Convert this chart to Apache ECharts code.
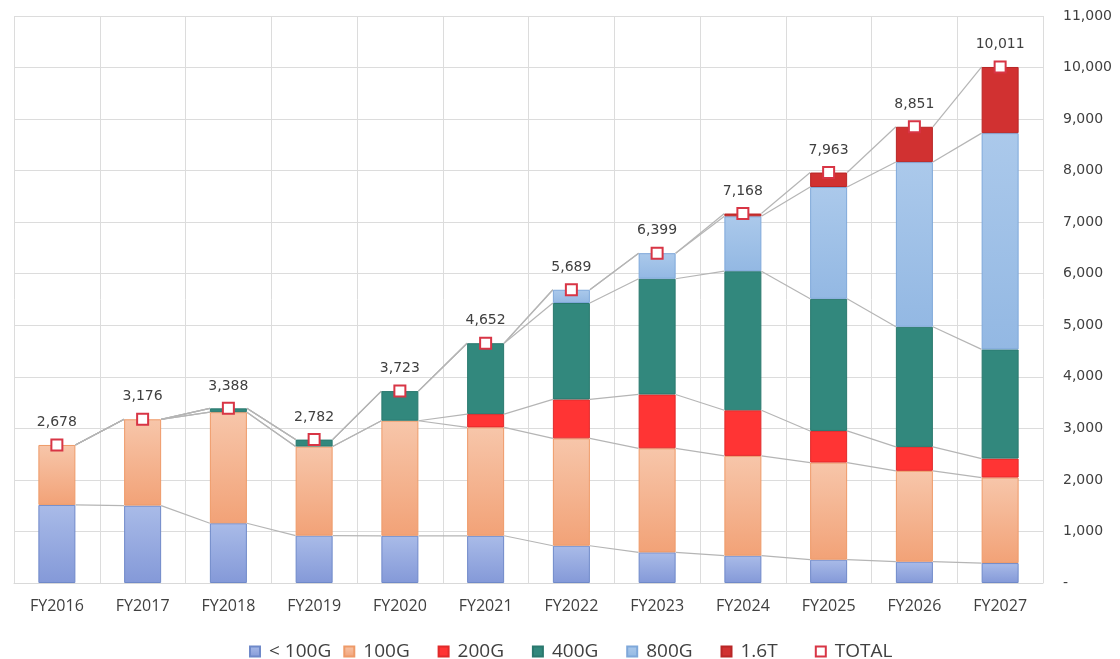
<!DOCTYPE html>
<html>
<head>
<meta charset="utf-8">
<script src="https://cdn.jsdelivr.net/npm/echarts@6/dist/echarts.min.js"></script>
<style>html,body{margin:0;padding:0;background:#fff;}#c{width:1120px;height:659px;}</style>
</head>
<body>
<div id="c"></div>
<script>
const categories = ['FY2016','FY2017','FY2018','FY2019','FY2020','FY2021','FY2022','FY2023','FY2024','FY2025','FY2026','FY2027'];
const seriesNames = ['< 100G','100G','200G','400G','800G','1.6T'];
const lt100G = [1515,1502,1159,919,916,916,723,594,530,452,413,387];
const g100   = [1163,1674,2155,1728,2232,2103,2083,2019,1936,1885,1763,1659];
const g200   = [0,0,0,0,0,258,755,1045,885,613,464,368];
const g400   = [0,0,74,135,575,1375,1871,2245,2698,2563,2331,2118];
const g800   = [0,0,0,0,0,0,257,496,1065,2169,3195,4196];
const t16    = [0,0,0,0,0,0,0,0,54,281,685,1283];
const totals = [2678,3176,3388,2782,3723,4652,5689,6399,7168,7963,8851,10011];

const stacks = [lt100G,g100,g200,g400,g800,t16];
const cum = [];
stacks.forEach((arr,k)=>{
  cum.push(arr.map((v,i)=> (k? cum[k-1][i]:0) + v));
});

const BAR_W = 37;
function grad(top, bottom){
  return {type:'linear',x:0,y:0,x2:0,y2:1,colorStops:[{offset:0,color:top},{offset:1,color:bottom}]};
}
const styles = [
  {color:grad('#a9bbe8','#8499d8'), borderColor:'#6f89c9'},
  {color:grad('#f7c6aa','#f2a277'), borderColor:'#ee9a68'},
  {color:'#ff3434', borderColor:'#e02a2a'},
  {color:'#32887d', borderColor:'#2a786e'},
  {color:grad('#abc9eb','#93b8e3'), borderColor:'#7fa8da'},
  {color:'#d13131', borderColor:'#b82626'}
];

const fmt = v => v.toLocaleString('en-US');

const series = stacks.map((arr,k)=>({
  name: seriesNames[k],
  type:'bar',
  stack:'s',
  barWidth: BAR_W,
  z: 3,
  data: arr.map(v => v === 0 ? null : v),
  itemStyle: Object.assign({borderWidth:1}, styles[k])
}));

series.push({
  name:'seriesLines',
  type:'custom',
  z:2,
  silent:true,
  data: categories.slice(0,-1).map((c,i)=>[i]),
  renderItem: function(params, api){
    const i = api.value(0);
    const children = [];
    for (let k=0;k<cum.length;k++){
      const p1 = api.coord([i, cum[k][i]]);
      const p2 = api.coord([i+1, cum[k][i+1]]);
      children.push({type:'line', shape:{x1:p1[0]+BAR_W/2, y1:p1[1], x2:p2[0]-BAR_W/2, y2:p2[1]},
        style:{stroke:'#b5b5b5', lineWidth:1.2}});
    }
    return {type:'group', children};
  }
});

series.push({
  name:'TOTAL',
  type:'line',
  z:5,
  data: totals,
  symbol:'rect',
  symbolSize:11,
  showAllSymbol:true,
  lineStyle:{width:0, opacity:0},
  itemStyle:{color:'#ffffff', borderColor:'#d83545', borderWidth:2},
  label:{show:true, position:'top', distance:9, formatter:p=>fmt(p.value),
    fontFamily:'DejaVu Sans', fontSize:14, color:'#404040'}
});

const legendNames = seriesNames.concat(['TOTAL']);
const legends = legendNames.map((name, k) => ({
  data:[name],
  left: 244 + k * 94.3, top: 637,
  icon:'rect',
  itemWidth:10, itemHeight:10,
  textStyle:{fontFamily:'Open Sans', fontSize:19, color:'#404040', padding:[0,0,0,4]}
}));

const chart = echarts.init(document.getElementById('c'), null, {renderer:'canvas'});
chart.setOption({
  animation:false,
  backgroundColor:'#ffffff',
  grid:{left:14, right:77, top:16, bottom:76, containLabel:false},
  legend: legends,
  xAxis:{
    type:'category',
    data:categories,
    boundaryGap:true,
    axisLine:{show:true, lineStyle:{color:'#d9d9d9'}},
    axisTick:{show:false},
    splitLine:{show:true, lineStyle:{color:'#dcdcdc', width:1}},
    axisLabel:{fontFamily:'Open Sans', fontSize:16, color:'#404040', margin:15, interval:0}
  },
  yAxis:{
    type:'value',
    position:'right',
    min:0, max:11000, interval:1000,
    axisLine:{show:false},
    axisTick:{show:false},
    splitLine:{show:true, lineStyle:{color:'#dcdcdc', width:1}},
    axisLabel:{fontFamily:'DejaVu Sans', fontSize:14, color:'#404040', margin:20, align:'left',
      formatter:v=> v===0 ? '-' : fmt(v)}
  },
  series
});
</script>
</body>
</html>
